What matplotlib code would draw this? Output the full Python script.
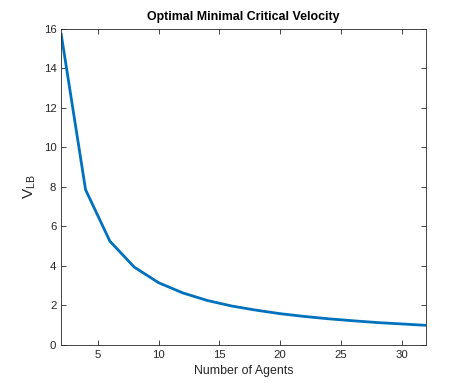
import matplotlib
matplotlib.use("Agg")
import matplotlib.pyplot as plt

agents = [2, 4, 6, 8, 10, 12, 14, 16, 18, 20, 22, 24, 26, 28, 30, 32]
v_lb = [15.71, 7.85, 5.24, 3.93, 3.14, 2.62, 2.24, 1.96, 1.75, 1.57,
        1.43, 1.31, 1.21, 1.12, 1.05, 0.98]
x_ticks = [5, 10, 15, 20, 25, 30]
y_ticks = [0, 2, 4, 6, 8, 10, 12, 14, 16]

plt.rcParams['font.family'] = ['Liberation Sans', 'DejaVu Sans']
plt.rcParams['mathtext.fontset'] = 'custom'
plt.rcParams['mathtext.rm'] = 'Liberation Sans'
plt.rcParams['mathtext.it'] = 'Liberation Sans'

axc = (0.15, 0.15, 0.15)
fig = plt.figure(figsize=(4.71, 3.88), dpi=100)
ax = fig.add_axes([0.130, 0.1116, 0.775, 0.8144])
ax.plot(agents, v_lb, color='#0072BD', linewidth=2)
ax.set_xlim(2, 32)
ax.set_ylim(0, 16)
ax.set_xticks(x_ticks)
ax.set_yticks(y_ticks)
ax.tick_params(direction='in', length=3.5, width=0.6, colors=axc,
               labelsize=8.2, top=True, right=True, labelcolor=axc)
for s in ax.spines.values():
    s.set_color(axc)
    s.set_linewidth(0.6)
ax.set_xlabel('Number of Agents', fontsize=8.9, color=axc)
ax.set_ylabel(r'V$_{\mathrm{LB}}$', fontsize=11, color=axc)
ax.set_title('Optimal Minimal Critical Velocity', fontsize=8.9,
             fontweight='bold', color='black')
fig.savefig('out.png', dpi=100)
